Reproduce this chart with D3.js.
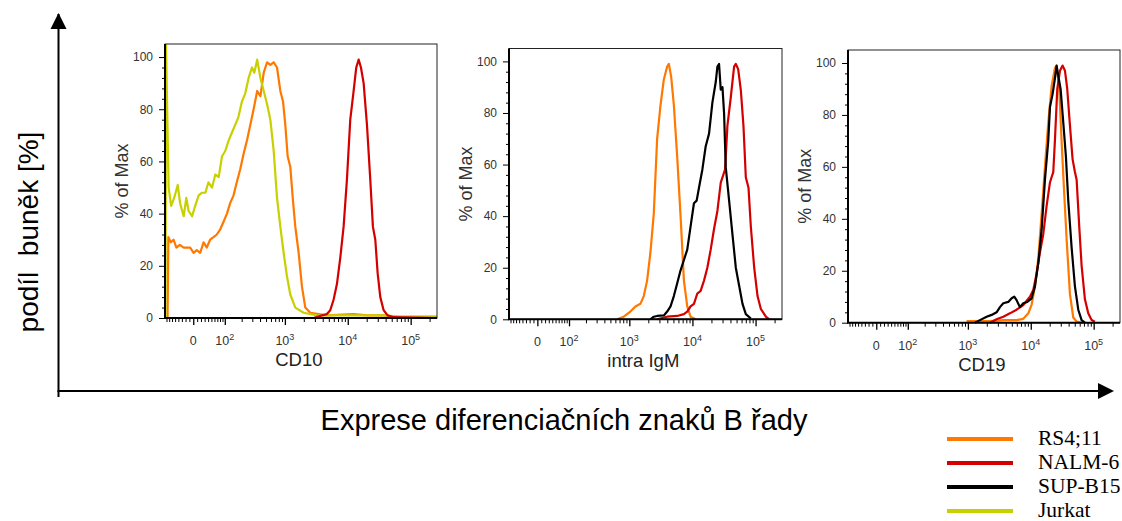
<!DOCTYPE html>
<html>
<head>
<meta charset="utf-8">
<script src="https://cdnjs.cloudflare.com/ajax/libs/d3/7.8.5/d3.min.js"></script>
<style>
  body { margin: 0; background: #fff; }
  svg { display: block; }
</style>
</head>
<body>
<div class="chart"></div>
<script>
// cell lines and their colours
const cellLines = ['RS4;11', 'NALM-6', 'SUP-B15', 'Jurkat']
const lineColours = ['#ff7800', '#d40000', '#000000', '#c8d000']

const panelTitles = ['CD10', 'intra IgM', 'CD19']
const yTicks = [0, 20, 40, 60, 80, 100]
const xMajorTicks = [0, 1e2, 1e3, 1e4, 1e5]
const xTickLabels = ['0', '10|2', '10|3', '10|4', '10|5']
const xMinorTicks = [-80, -70, -60, -50, -40, -30, -20, -10,
    10, 20, 30, 40, 50, 60, 70, 80, 90,
    200, 300, 400, 500, 600, 700, 800, 900,
    2000, 3000, 4000, 5000, 6000, 7000, 8000, 9000,
    20000, 30000, 40000, 50000, 60000, 70000, 80000, 90000, 200000]

// [fluorescence, % of max]
const cd10RS4 = [[-76, 0], [-73, 31], [-64, 29], [-55, 30], [-46, 27], [-36, 28], [-25, 27], [-16, 27], [-8, 27],
    [1, 25], [9, 26], [18, 25], [27, 29], [36, 27], [46, 30], [57, 31], [68, 32], [81, 34], [95, 37], [110, 40],
    [126, 44], [145, 47], [165, 52], [189, 57], [216, 63], [245, 68], [278, 74], [315, 80], [360, 87], [406, 85],
    [459, 94], [519, 98], [586, 97], [663, 98], [749, 96], [846, 87], [934, 83], [1016, 74], [1107, 62], [1219, 58],
    [1345, 45], [1465, 35], [1656, 25], [1870, 12], [2113, 4], [2535, 2], [4660, 1], [12400, 1.5], [20200, 1],
    [37170, 1], [53600, 0.5], [262144, 0.4]]
const cd10NALM6 = [[-78, 0], [2863, 0], [3890, 1], [4660, 1.5], [5275, 3], [5950, 7], [6725, 13], [7600, 23],
    [8590, 35], [9700, 53], [10960, 76], [12400, 87], [13650, 96], [14900, 99], [16200, 96], [17880, 90],
    [20200, 74], [22800, 53], [25100, 35], [27400, 30], [29900, 17], [32900, 8], [37170, 3], [43000, 1],
    [53600, 0.3], [262144, 0]]
const cd10Jurkat = [[-84, 0], [-82, 105], [-72, 50], [-63, 43], [-53, 46], [-42, 51], [-35, 44], [-25, 39],
    [-18, 46], [-12, 41], [-3, 39], [5, 43], [14, 47], [23, 48], [32, 48], [41, 52], [52, 50], [63, 55], [75, 54],
    [88, 62], [102, 64], [118, 68], [135, 71], [155, 74], [176, 77], [202, 83], [229, 86], [261, 92], [296, 96],
    [323, 94], [360, 99], [406, 92], [459, 87], [519, 82], [586, 76], [663, 64], [749, 46], [846, 35], [955, 25],
    [1079, 16], [1219, 9], [1465, 4], [1987, 2], [3237, 1], [5950, 1], [15800, 1], [37170, 1], [68400, 0.5],
    [262144, 0.5]]

const igmRS4 = [[638, 0], [815, 1], [1040, 3], [1250, 5], [1500, 6], [1695, 9], [1915, 15], [2163, 26],
    [2444, 41], [2760, 70], [3120, 83], [3525, 93], [3980, 98], [4235, 99], [4610, 94], [5080, 83], [5740, 63],
    [6490, 40], [7330, 15], [8280, 5], [9350, 1], [11240, 0]]
const igmNALM6 = [[2760, 0], [3980, 1], [5740, 1.3], [7330, 2], [8280, 3], [9350, 5], [10570, 6], [11940, 10],
    [13490, 11], [15250, 15], [17220, 20], [19460, 27], [21980, 35], [24850, 42], [28100, 53], [32800, 58],
    [33700, 63], [35800, 75], [40460, 86], [45700, 98], [48650, 99], [53000, 97], [58350, 89], [64300, 75],
    [70100, 55], [77300, 51], [84100, 36], [95100, 20], [107400, 9], [121300, 4], [145600, 1], [164500, 0]]
const igmSUPB15 = [[2163, 0], [2444, 1], [2760, 1.3], [3525, 1.5], [3980, 3], [4500, 5], [5080, 9], [5740, 14],
    [6490, 19], [7330, 23], [8280, 27], [9350, 36], [10570, 45], [11660, 46], [12700, 51], [14350, 58],
    [16200, 67], [18330, 72], [20700, 84], [23400, 92], [24850, 98], [26400, 99], [28100, 89], [29900, 90],
    [31700, 80], [33700, 59], [38100, 46], [43000, 33], [48650, 20], [54950, 13], [62100, 6], [70100, 2],
    [84100, 0.3]]

const cd19RS4 = [[955, 0.6], [1378, 0.6], [2245, 0.6], [3660, 1], [5950, 1], [7600, 1.5], [9140, 3.6],
    [10330, 7], [11660, 14], [13190, 25], [14900, 42], [16800, 60], [18970, 77], [21430, 91], [24200, 98],
    [25750, 99], [28400, 90], [30900, 70], [33650, 52], [37170, 32], [41970, 11], [47400, 2], [53600, 0.4],
    [64300, 0]]
const cd19NALM6 = [[2245, 0], [2863, 1.3], [3660, 2.3], [4660, 3.6], [5950, 5], [7600, 6.8], [9700, 10],
    [10960, 12.6], [12400, 19], [14000, 27], [15800, 34], [17880, 45], [20200, 54], [21430, 56], [22800, 58],
    [24200, 70], [26400, 90], [29100, 97], [32100, 99], [35000, 97], [38000, 90], [41970, 76], [46200, 63],
    [50360, 58], [53600, 55], [59000, 37], [64300, 22], [72600, 9], [82000, 3.6], [92700, 1], [104700, 0.4]]
const cd19SUPB15 = [[1297, 0], [1556, 1], [1987, 2.3], [2388, 3], [2863, 4], [3237, 6], [3660, 7.5], [4395, 8],
    [4967, 9.4], [5470, 10], [5950, 8.7], [6725, 6], [7600, 7.5], [8810, 8], [10330, 9.4], [11660, 14],
    [13190, 23], [14900, 36], [16800, 55], [18970, 70], [20200, 83], [22230, 88], [24200, 94], [25750, 99],
    [27400, 95], [29800, 90], [32900, 77], [36200, 64], [39450, 47], [44600, 29], [50360, 14], [56900, 5],
    [64300, 1], [72600, 0]]

const legendLines = ['RS4;11', 'NALM-6', 'SUP-B15', 'Jurkat']

const colour = name => lineColours[cellLines.indexOf(name)]

// biexponential-ish transform used for the fluorescence axis
const biex = v => Math.asinh(v / 70) / Math.LN10

class HistogramPanel {

    constructor(svg, options) {
        this.svg = svg
        this.title = options.title
        this.series = options.series
        this.left = options.left
        this.right = options.right
        this.top = options.top
        this.bottom = options.bottom
        this.xMin = -86
        this.xMax = 262144
        this.fontFamily = 'Arial, "Liberation Sans", sans-serif'
    }

    render() {
        this.g = this.svg.append('g')
        this.prepareScales()
        this.createAxes()
        this.createCurves()
        this.createFrame()
        this.createLabels()
    }

    prepareScales() {
        this.xLin = d3.scaleLinear()
            .domain([biex(this.xMin), biex(this.xMax)])
            .range([this.left, this.right])
        this.x = v => this.xLin(biex(v))
        this.y = d3.scaleLinear()
            .domain([0, 105])
            .range([this.bottom, this.top])
    }

    createAxes() {
        let minorY = d3.range(0, 101, 4).filter(v => yTicks.indexOf(v) < 0)
        this.g.append('g')
            .attr('transform', `translate(${this.left},0)`)
            .call(d3.axisLeft(this.y).tickValues(minorY).tickSize(3).tickFormat(''))
            .call(g => g.select('.domain').remove())
        this.g.append('g')
            .attr('transform', `translate(${this.left},0)`)
            .call(d3.axisLeft(this.y).tickValues(yTicks).tickSize(6).tickPadding(6))
            .call(g => g.select('.domain').remove())
            .call(g => g.selectAll('text').style('font-family', this.fontFamily).style('font-size', '12px').style('fill', '#333'))

        this.g.append('g')
            .attr('transform', `translate(0,${this.bottom})`)
            .call(d3.axisBottom(this.xLin).tickValues(xMinorTicks.map(biex)).tickSize(4).tickFormat(''))
            .call(g => g.select('.domain').remove())
        this.g.append('g')
            .attr('transform', `translate(0,${this.bottom})`)
            .call(d3.axisBottom(this.xLin).tickValues(xMajorTicks.map(biex)).tickSize(7).tickFormat(''))
            .call(g => g.select('.domain').remove())
            .call(g => g.selectAll('line').attr('stroke-width', 1.3))

        let labels = this.g.append('g')
            .style('font-family', this.fontFamily)
            .style('fill', '#333')
            .selectAll('text')
            .data(xMajorTicks)
            .enter().append('text')
            .attr('x', d => this.x(d))
            .attr('y', this.bottom + 27)
            .attr('text-anchor', 'middle')
            .style('font-size', '12.5px')
        labels.each(function (d, i) {
            let parts = xTickLabels[i].split('|')
            let t = d3.select(this)
            t.append('tspan').text(parts[0])
            if (parts[1]) {
                t.append('tspan').attr('dy', -5).style('font-size', '9px').text(parts[1])
            }
        })
    }

    createCurves() {
        let line = d3.line()
            .x(d => this.x(d[0]))
            .y(d => this.y(d[1]))
            .curve(d3.curveLinear)
        this.g.append('clipPath')
            .attr('id', 'clip-' + this.left)
            .append('rect')
            .attr('x', this.left)
            .attr('y', this.top)
            .attr('width', this.right - this.left)
            .attr('height', this.bottom - this.top + 2)
        this.g.append('g')
            .attr('clip-path', `url(#clip-${this.left})`)
            .selectAll('path')
            .data(this.series)
            .enter().append('path')
            .attr('d', s => line(s.values))
            .style('fill', 'none')
            .style('stroke', s => colour(s.name))
            .style('stroke-width', 2.2)
            .style('stroke-linejoin', 'round')
    }

    createFrame() {
        this.g.append('rect')
            .attr('x', this.left)
            .attr('y', this.top)
            .attr('width', this.right - this.left)
            .attr('height', this.bottom - this.top)
            .style('fill', 'none')
            .style('stroke', '#222')
            .style('stroke-width', 1)
        this.g.append('path')
            .attr('d', `M${this.left},${this.top}V${this.bottom}H${this.right}`)
            .style('fill', 'none')
            .style('stroke', '#000')
            .style('stroke-width', 2)
    }

    createLabels() {
        let midY = (this.top + this.bottom) / 2
        this.g.append('text')
            .attr('transform', `translate(${this.left - 37},${midY}) rotate(-90)`)
            .attr('text-anchor', 'middle')
            .style('font-family', this.fontFamily)
            .style('font-size', '18px')
            .style('fill', '#333')
            .text('% of Max')
        this.g.append('text')
            .attr('x', this.xLin(biex(1e3)) + 14)
            .attr('y', this.bottom + 48)
            .attr('text-anchor', 'middle')
            .style('font-family', this.fontFamily)
            .style('font-size', '18.5px')
            .style('fill', '#222')
            .text(this.title)
    }
}

const svg = d3.select('.chart')
    .append('svg')
    .attr('width', 1122)
    .attr('height', 521)

// big arrows
svg.append('line')
    .attr('x1', 58.5).attr('y1', 397).attr('x2', 58.5).attr('y2', 14)
    .style('stroke', '#000').style('stroke-width', 2)
svg.append('path').attr('d', 'M50.5,29L58.5,13L66.5,29Z').style('fill', '#000')
svg.append('line')
    .attr('x1', 57.5).attr('y1', 391).attr('x2', 1100).attr('y2', 391)
    .style('stroke', '#000').style('stroke-width', 2)
svg.append('path').attr('d', 'M1098,383L1114,391L1098,399Z').style('fill', '#000')

svg.append('text')
    .attr('transform', 'translate(38,232) rotate(-90)')
    .attr('text-anchor', 'middle')
    .style('font-family', 'Arial, "Liberation Sans", sans-serif')
    .style('font-size', '28px')
    .style('white-space', 'pre')
    .text('podíl  buněk [%]')

svg.append('text')
    .attr('x', 564)
    .attr('y', 430)
    .attr('text-anchor', 'middle')
    .style('font-family', 'Arial, "Liberation Sans", sans-serif')
    .style('font-size', '29px')
    .text('Exprese diferenciačních znaků B řady')

const panels = [
    { title: panelTitles[0], left: 165, right: 437, top: 44, bottom: 318,
      series: [{ name: 'RS4;11', values: cd10RS4 }, { name: 'Jurkat', values: cd10Jurkat }, { name: 'NALM-6', values: cd10NALM6 }] },
    { title: panelTitles[1], left: 509, right: 782, top: 48.5, bottom: 319.3,
      series: [{ name: 'RS4;11', values: igmRS4 }, { name: 'NALM-6', values: igmNALM6 }, { name: 'SUP-B15', values: igmSUPB15 }] },
    { title: panelTitles[2], left: 848, right: 1120, top: 50, bottom: 322.7,
      series: [{ name: 'RS4;11', values: cd19RS4 }, { name: 'NALM-6', values: cd19NALM6 }, { name: 'SUP-B15', values: cd19SUPB15 }] }
]
panels.forEach(p => new HistogramPanel(svg, p).render())

// legend
let legend = svg.append('g')
let ly = d3.scalePoint().domain(legendLines).range([439, 511])
legend.selectAll('line')
    .data(legendLines)
    .enter().append('line')
    .attr('x1', 947).attr('x2', 1013)
    .attr('y1', d => ly(d)).attr('y2', d => ly(d))
    .style('stroke', d => colour(d))
    .style('stroke-width', 4)
legend.selectAll('text')
    .data(legendLines)
    .enter().append('text')
    .attr('x', 1038)
    .attr('y', d => ly(d) + 6)
    .style('font-family', '"Liberation Serif", "Times New Roman", serif')
    .style('font-size', '21.5px')
    .text(d => d)
</script>
</body>
</html>
